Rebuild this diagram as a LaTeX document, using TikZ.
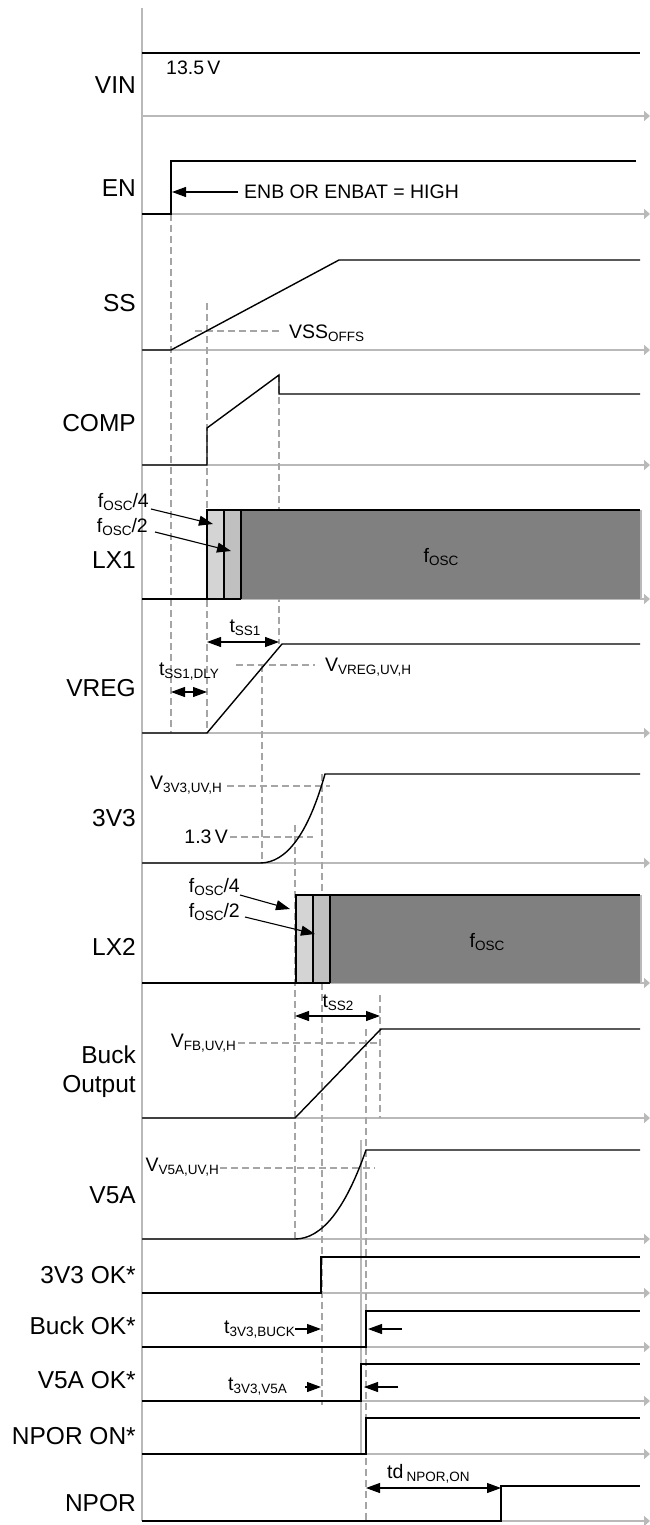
\documentclass[tikz,border=0pt]{standalone}
\usepackage{fontspec}
\setmainfont{Liberation Sans}
\usetikzlibrary{arrows.meta}
\definecolor{axgray}{RGB}{185,185,185}
\definecolor{dashgray}{RGB}{165,165,165}
\definecolor{oscdark}{RGB}{128,128,128}
\definecolor{oscquart}{RGB}{212,212,212}
\definecolor{oschalf}{RGB}{192,192,192}
\newcommand{\sbs}[1]{\raisebox{-3pt}{\fontsize{13.5}{14}\selectfont #1}}
\newcommand{\rowfont}{\fontsize{24.5}{29}\selectfont}
\newcommand{\notefont}{\fontsize{19.5}{22}\selectfont}

\begin{document}
\begin{tikzpicture}[x=1pt,y=-1pt,
  sig/.style={line width=1.4pt},
  ax/.style={axgray, line width=1.5pt, -{Triangle[length=6pt,width=10pt]}},
  guide/.style={dashgray, line width=1.1pt, dash pattern=on 7pt off 4pt},
  lbl/.style={anchor=east, inner sep=0pt, font=\rowfont, align=right},
  note/.style={inner sep=0pt, font=\notefont},
  ptr/.style={line width=1.1pt, -{Triangle[length=14pt,width=10pt]}},
  dimarr/.style={line width=1.1pt, {Triangle[length=14pt,width=10pt]}-{Triangle[length=14pt,width=10pt]}}]
\useasboundingbox (0,0) rectangle (650,1525);

% axes
\draw[axgray, line width=1.5pt] (142,8) -- (142,1521);
\foreach \y in {116,214,350,465,599,733,863,983,1118,1239,1293,1347,1401,1454,1521}
  \draw[ax] (142,\y) -- (650,\y);

% signal names
\foreach \n/\t/\y in {vin/VIN/85, en/EN/188, ss/SS/303, comp/COMP/423, lxa/LX1/560,
    vreg/VREG/688, vtt/3V3/818, lxb/LX2/947, vfa/V5A/1195, okt/3V3 OK*/1275,
    okb/Buck OK*/1326, okf/V5A OK*/1380, npon/NPOR ON*/1436, npor/NPOR/1503}
  \node[lbl] (\n) at (136,\y) {\t};
\node[lbl] (buck) at (136,1072) {Buck\\Output};

% timing guides
\foreach \x/\a/\b in {171/214/733, 207/303/733, 279/375/644, 262/665/863,
    295/825/1239, 322/774/1405, 380/995/1118, 366/1029/1521}
  \draw[guide] (\x,\a) -- (\x,\b);
\draw[axgray, line width=1.1pt] (361,1140) -- (361,1454);
\draw[guide] (195,331) -- (280,331);
\draw[guide] (236,665) -- (315,665);
\draw[guide] (227,786) -- (330,786);
\draw[guide] (230,837) -- (313,837);
\draw[guide] (238,1043) -- (380,1043);
\draw[guide] (220,1168) -- (375,1168);

% switching nodes
\foreach \x/\t/\b in {207/510/599, 296/895/983}{
  \fill[oscquart] (\x,\t) rectangle (\x+17,\b);
  \fill[oschalf] (\x+17,\t) rectangle (\x+34,\b);
  \fill[oscdark] (\x+34,\t) rectangle (641,\b);
  \draw[axgray, line width=1.3pt] (641,\t) -- (641,\b);
  \draw[sig] (142,\b) -- (\x+34,\b) (\x,\b) -- (\x,\t) -- (640,\t)
    (\x+17,\t) -- (\x+17,\b) (\x+34,\t) -- (\x+34,\b);
}

% waveforms
\draw[sig] (142,53) -- (640,53);
\draw[sig] (142,214) -- (171,214) -- (171,161) -- (636,161);
\draw[sig] (142,350) -- (171,350) -- (339,260) -- (640,260);
\draw[sig] (142,465) -- (207,465) -- (207,428) -- (279,375) -- (279,394) -- (640,394);
\draw[sig] (142,733) -- (207,733) -- (282,644) -- (640,644);
\draw[sig] (142,863) -- (260,863) .. controls (286.7,863) and (308.3,833.3) .. (325,774) -- (640,774);
\draw[sig] (142,1118) -- (295,1118) -- (381,1029) -- (640,1029);
\draw[sig] (142,1239) -- (295,1239) .. controls (321.7,1239) and (345.3,1209.3) .. (366,1150) -- (640,1150);
\draw[sig] (142,1293) -- (321,1293) -- (321,1257) -- (640,1257);
\draw[sig] (142,1347) -- (366,1347) -- (366,1311) -- (640,1311);
\draw[sig] (142,1401) -- (361,1401) -- (361,1364) -- (640,1364);
\draw[sig] (142,1454) -- (366,1454) -- (366,1418) -- (640,1418);
\draw[sig] (142,1521) -- (501,1521) -- (501,1486) -- (640,1486);

% annotations
\node[note, anchor=west] (vinval) at (166,68) {13.5\,V};
\node[note, anchor=west] (enbat) at (244,192) {ENB OR ENBAT = HIGH};
\draw[ptr] ([xshift=-6pt]enbat.west) -- (172,192);
\node[note, anchor=west] (vssoffs) at (289,333) {VSS\sbs{OFFS}};

\node[note, anchor=east] (qa) at (149,502) {f\sbs{OSC}/4};
\node[note, anchor=east] (ha) at (148,527) {f\sbs{OSC}/2};
\draw[ptr] (151,509) -- (213,524);
\draw[ptr] (155,532) -- (231,551);
\node[note] (osca) at (441,557) {f\sbs{OSC}};

\node[note] (tssa) at (245,628) {t\sbs{SS1}};
\draw[dimarr] (207,642) -- (279,642);
\node[note] (tdly) at (189,672) {t\sbs{SS1,DLY}};
\draw[dimarr] (171,692) -- (207,692);
\node[note, anchor=west] (vreguv) at (325,667) {V\sbs{VREG,UV,H}};

\node[note, anchor=east] (vttuv) at (222,785) {V\sbs{3V3,UV,H}};
\node[note, anchor=east] (vone) at (228,837) {1.3\,V};

\node[note, anchor=east] (qb) at (240,887) {f\sbs{OSC}/4};
\node[note, anchor=east] (hb) at (240,912) {f\sbs{OSC}/2};
\draw[ptr] (240,895) -- (290,909);
\draw[ptr] (245,917) -- (315,934);
\node[note] (oscb) at (487,942) {f\sbs{OSC}};

\node[note] (tssb) at (338,1003) {t\sbs{SS2}};
\draw[dimarr] (295,1016) -- (380,1016);
\node[note, anchor=east] (vfbuv) at (236,1043) {V\sbs{FB,UV,H}};
\node[note, anchor=east] (vfauv) at (219,1167) {V\sbs{V5A,UV,H}};

\node[note, anchor=east] (tbuck) at (295,1330) {t\sbs{3V3,BUCK}};
\draw[ptr] (295,1329) -- (321,1329);
\draw[ptr] (402,1329) -- (368,1329);
\node[note, anchor=east] (tvfa) at (287,1387) {t\sbs{3V3,V5A}};
\draw[ptr] (305,1387) -- (321,1387);
\draw[ptr] (398,1387) -- (364,1387);

\node[note, anchor=west] (tdnpor) at (387,1474) {td\,\sbs{NPOR,ON}};
\draw[dimarr] (366,1488) -- (501,1488);
\end{tikzpicture}
\end{document}
